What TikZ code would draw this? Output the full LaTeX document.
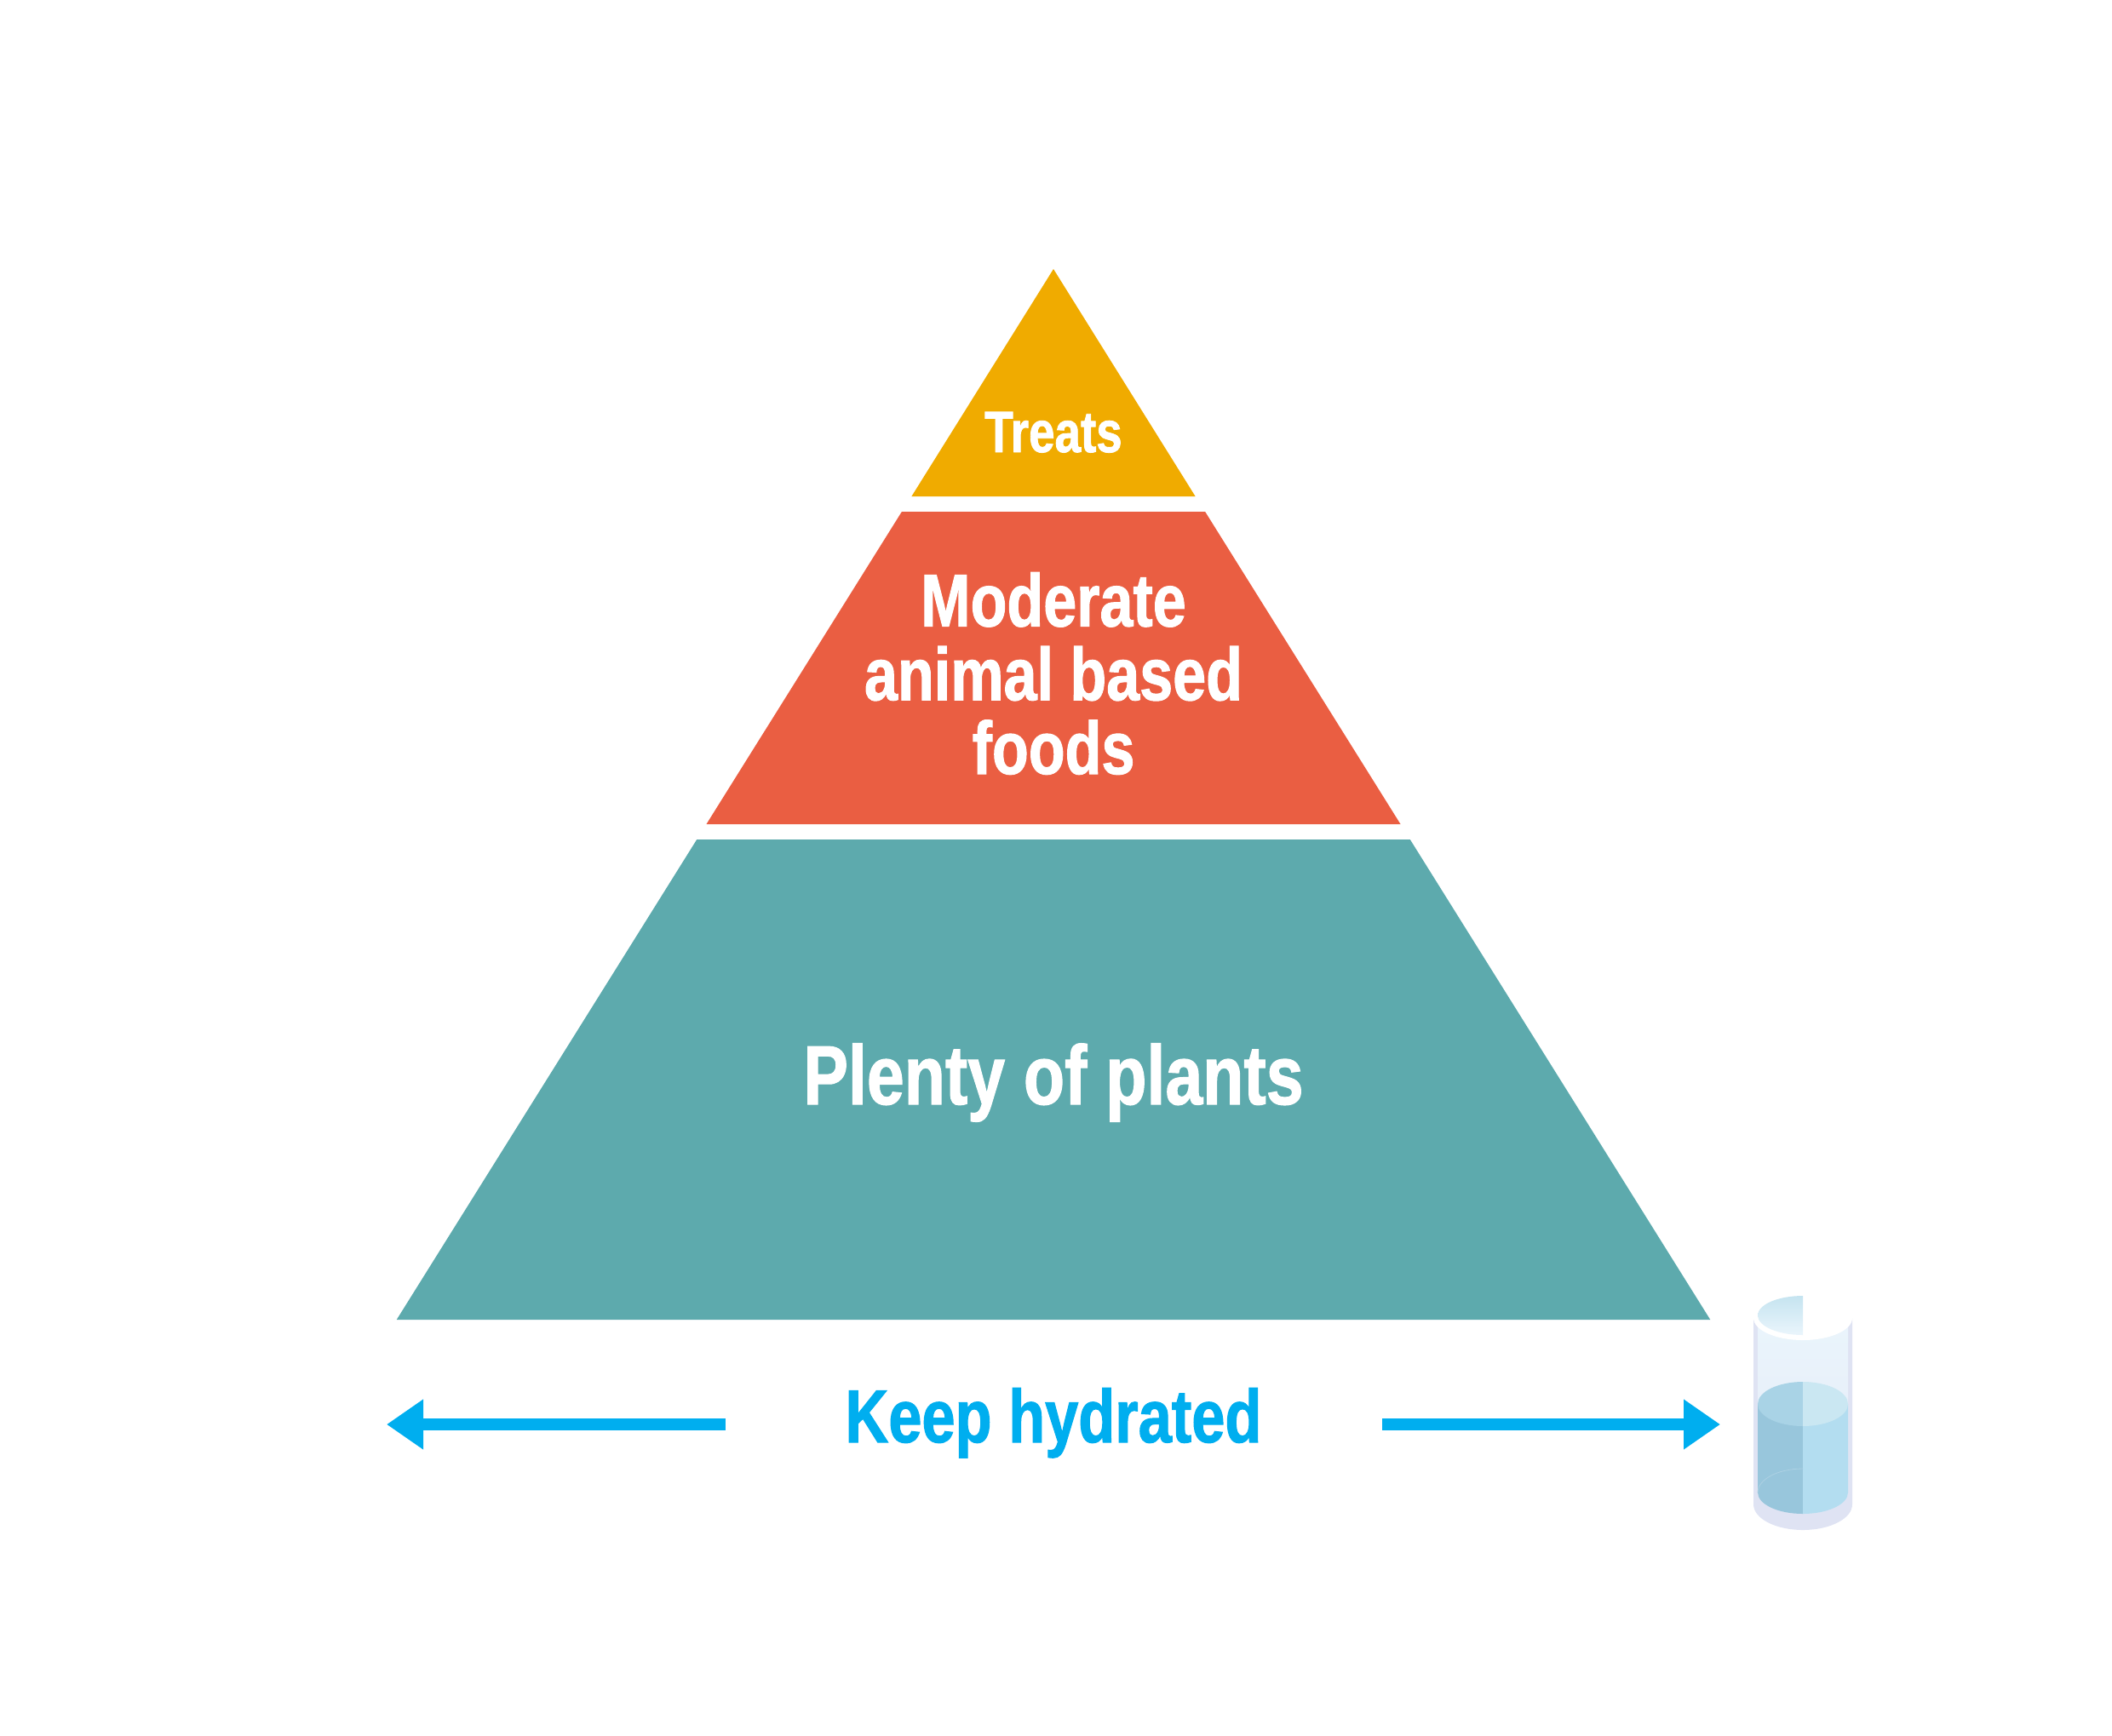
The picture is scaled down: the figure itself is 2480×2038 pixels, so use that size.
\documentclass[tikz,border=0pt]{standalone}
\usepackage{fontspec}
\newfontfamily\condfont[FakeStretch=0.8,FakeBold=1.2]{Liberation Sans}
\usetikzlibrary{arrows.meta}
\definecolor{treatcol}{HTML}{F0AB00}
\definecolor{meatcol}{HTML}{EA5E42}
\definecolor{plantcol}{HTML}{5DAAAD}
\definecolor{watercol}{HTML}{00AEEF}
\definecolor{glassrim}{HTML}{DFE3F3}
\definecolor{glasstop}{HTML}{EAF5FC}
\definecolor{glassbot}{HTML}{E5E9F6}
\definecolor{waterdark}{HTML}{98C6DC}
\definecolor{waterlight}{HTML}{B3DDF0}
\definecolor{surfdark}{HTML}{A9D3E6}
\definecolor{surflight}{HTML}{CAE7F2}
\tikzset{
  bandtext/.style={text=white,font=\condfont\bfseries,inner sep=0pt,anchor=base},
  hydarrow/.style={draw=watercol,line width=14.7pt,-{Triangle[length=43pt,width=56pt]}}
}

\begin{document}
\begin{tikzpicture}[x=1pt,y=-1pt]
\useasboundingbox (0,0) rectangle (2480,2038);
% pyramid bands
\fill[treatcol] (1237,316) -- (1403.6,583) -- (1070.4,583) -- cycle;
\fill[meatcol] (1058.9,601) -- (1415.1,601) -- (1644.5,968) -- (829.5,968) -- cycle;
\fill[plantcol] (818.25,986) -- (1655.75,986) -- (2008.25,1550) -- (465.75,1550) -- cycle;
\node[bandtext,font=\condfont\bfseries\fontsize{68.5}{68.5}\selectfont] (treats) at (1237,531) {Treats};
\node[bandtext,align=center,font=\condfont\bfseries\fontsize{87.6}{86.7}\selectfont] (moderate) at (1237,909) {Moderate\\animal based\\foods};
\node[bandtext,font=\condfont\bfseries\fontsize{98.6}{98.6}\selectfont] (plenty) at (1237,1297) {Plenty of plants};
% water
\node[bandtext,text=watercol,font=\condfont\bfseries\fontsize{88}{88}\selectfont] (hydrated) at (1237,1694) {Keep hydrated};
\coordinate (lstart) at (852,1673);
\coordinate (ltip) at (454,1673);
\coordinate (rstart) at (1623,1673);
\coordinate (rtip) at (2020,1673);
\draw[hydarrow] (lstart) -- (ltip);
\draw[hydarrow] (rstart) -- (rtip);
% glass
\fill[glassrim] (2059,1548) -- (2059,1767) arc[start angle=180,end angle=0,x radius=58,y radius=30] -- (2175,1548) -- cycle;
\shade[top color=glasstop,bottom color=glassbot] (2064,1548) -- (2064,1753) arc[start angle=180,end angle=0,x radius=53,y radius=25] -- (2170,1548) -- cycle;
\fill[waterdark] (2064,1649) -- (2064,1753) arc[start angle=180,end angle=90,x radius=53,y radius=25] -- (2117,1649) -- cycle;
\fill[waterlight] (2117,1649) -- (2117,1778) arc[start angle=90,end angle=0,x radius=53,y radius=25] -- (2170,1649) -- cycle;
\fill[surfdark] (2117,1623) arc[start angle=270,end angle=90,x radius=53,y radius=26] -- cycle;
\fill[surflight] (2117,1623) arc[start angle=270,end angle=450,x radius=53,y radius=26] -- cycle;
\draw[waterdark!80!white,line width=0.8pt] (2064,1753) arc[start angle=180,end angle=270,x radius=53,y radius=28];
\fill[white] (2117,1548) ellipse[x radius=58,y radius=26];
\shade[top color=surflight!90!waterdark,bottom color=glasstop] (2117,1522) arc[start angle=270,end angle=90,x radius=53,y radius=23] -- cycle;
\end{tikzpicture}
\end{document}
